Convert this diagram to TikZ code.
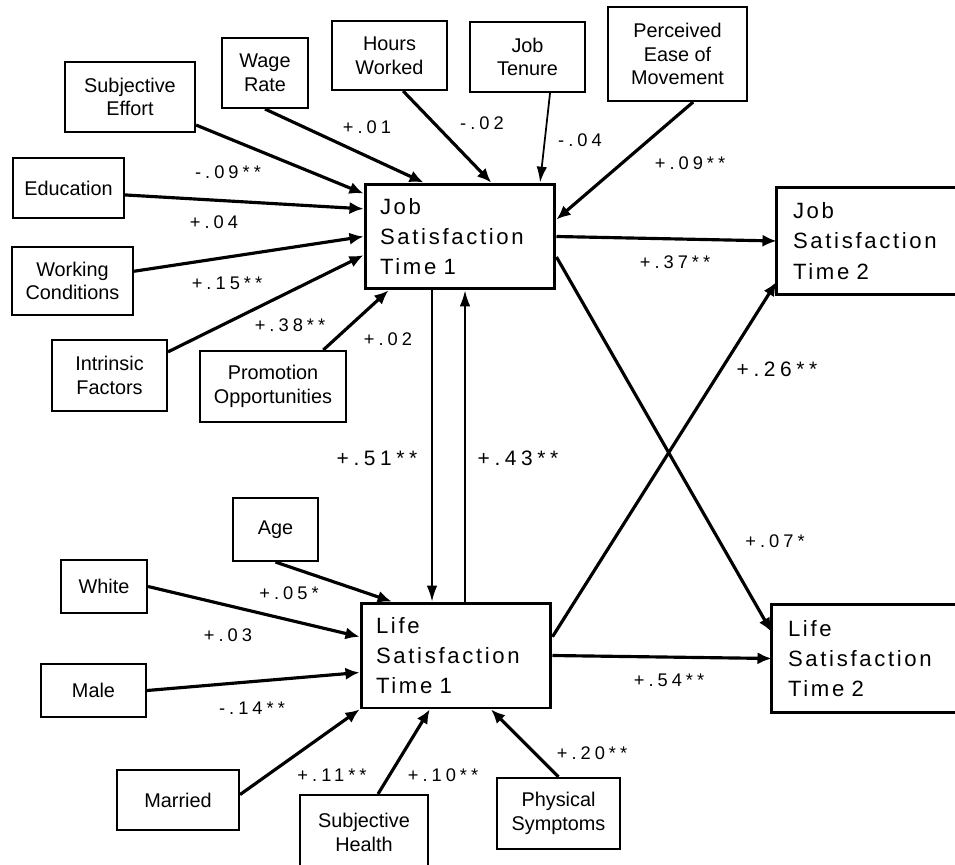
\documentclass[tikz,border=0pt]{standalone}
\usepackage{fontspec}
\setmainfont{Liberation Sans}
\newfontfamily\satfont[LetterSpace=12]{Liberation Sans}
\newfontfamily\coeffont[LetterSpace=22]{Liberation Sans}
\usetikzlibrary{arrows.meta}

\tikzset{
  var/.style={draw, line width=1.2pt, align=center, inner sep=2pt,
    font=\fontsize{11.3}{13.5}\selectfont},
  sat/.style={draw, line width=1.7pt, align=left, text width=3.2cm,
    inner xsep=0.3cm, minimum width=3.8cm, minimum height=2.1cm,
    font=\satfont\fontsize{12.6}{17.3}\selectfont},
  satabierta/.style={sat, draw=none, text width=3.6cm, minimum width=4.2cm},
  borde/.style={line width=1.7pt},
  flecha/.style={line width=1.8pt, -{Latex[length=8pt,width=7pt]}},
  flechafina/.style={line width=1pt, -{Latex[length=9pt,width=6pt]}},
  coef/.style={inner sep=0pt, font=\coeffont\fontsize{10.4}{12}\selectfont},
  coefg/.style={inner sep=0pt, font=\coeffont\fontsize{11.9}{14}\selectfont}
}

\begin{document}
\begin{tikzpicture}[x=0.02cm,y=-0.02cm]
        \useasboundingbox (0,0) rectangle (955,864);
        \clip (0,0) rectangle (955,864);
        % satisfaccion
        \node[sat] (js1) at (460,236.5) {Job\\Satisfaction\\Time 1};
        \node[satabierta] (js2) at (883,241) {Job\\Satisfaction\\Time 2};
        \node[sat] (ls1) at (456,655.5) {Life\\Satisfaction\\Time 1};
        \node[satabierta] (ls2) at (878,658.5) {Life\\Satisfaction\\Time 2};
        % cajas cortadas por el borde derecho
        \draw[borde] (js2.north east) -- (js2.north west) -- (js2.south west) -- (js2.south east);
        \draw[borde] (ls2.north east) -- (ls2.north west) -- (ls2.south west) -- (ls2.south east);
        % variables del trabajo
        \node[var, minimum width=2.6cm, minimum height=1.4cm] (se) at (130,97) {Subjective\\Effort};
        \node[var, minimum width=1.72cm, minimum height=1.4cm] (wage) at (265,73) {Wage\\Rate};
        \node[var, minimum width=2.3cm, minimum height=1.38cm] (hours) at (389.5,55.5) {Hours\\Worked};
        \node[var, minimum width=2.3cm, minimum height=1.4cm] (tenure) at (527.5,57) {Job\\Tenure};
        \node[var, minimum width=2.78cm, minimum height=1.88cm] (ease) at (677.5,54) {Perceived\\Ease of\\Movement};
        \node[var, minimum width=2.22cm, minimum height=1.2cm] (edu) at (68.5,188) {Education};
        \node[var, minimum width=2.42cm, minimum height=1.36cm] (work) at (72.5,281) {Working\\Conditions};
        \node[var, minimum width=2.3cm, minimum height=1.42cm] (intr) at (109.5,375.5) {Intrinsic\\Factors};
        \node[var, minimum width=2.92cm, minimum height=1.42cm] (promo) at (273,386.5) {Promotion\\Opportunities};
        % variables personales
        \node[var, minimum width=1.7cm, minimum height=1.26cm] (age) at (275.5,529.5) {Age};
        \node[var, minimum width=1.72cm, minimum height=1.06cm] (white) at (104,586.5) {White};
        \node[var, minimum width=2.1cm, minimum height=1.06cm] (male) at (93.5,690.5) {Male};
        \node[var, minimum width=2.44cm, minimum height=1.2cm] (married) at (178,800) {Married};
        \node[var, minimum width=2.56cm, minimum height=1.5cm] (health) at (364,832.5) {Subjective\\Health};
        \node[var, minimum width=2.46cm, minimum height=1.42cm] (phys) at (558.5,813.5) {Physical\\Symptoms};
        % flechas hacia job satisfaction
        \draw[flecha] (se.337) -- (js1.156);
        \draw[flecha] (wage.south) -- (js1.124);
        \draw[flecha] (hours.291) -- (js1.60);
        \draw[flechafina] (tenure.302) -- (js1.34);
        \draw[flecha] (ease.288) -- (js1.10);
        \draw[flecha] (edu.353) -- (js1.164);
        \draw[flecha] (work.9) -- (js1.west);
        \draw[flecha] (intr.22) -- (js1.191);
        \draw[flecha] (promo.36) -- (js1.217);
        % flechas hacia life satisfaction
        \draw[flecha] (age.south) -- (ls1.140);
        \draw[flecha] (white.east) -- (ls1.169);
        \draw[flecha] (male.east) -- (ls1.190);
        \draw[flecha] (married.5) -- (ls1.south west);
        \draw[flecha] (health.70) -- (ls1.244);
        \draw[flecha] (phys.north) -- (ls1.303);
        % efectos reciprocos y tiempo 2
        \draw[flechafina] ([xshift=-0.56cm]js1.south) -- ([xshift=-0.56cm]js1.south |- ls1.north);
        \draw[flechafina] ([xshift=0.18cm]ls1.north) -- ([xshift=0.18cm]ls1.north |- js1.south);
        \draw[flecha] (js1.east) -- (js2.west);
        \draw[flecha] (js1.348) -- (ls2.166);
        \draw[flecha] (ls1.11) -- (js2.201);
        \draw[flecha] (ls1.east) -- (ls2.west);
        % coeficientes
        \node[coef] (cse) at (228,172) {-.09**};
        \node[coef] (cwage) at (367,127) {+.01};
        \node[coef] (chours) at (482,123) {-.02};
        \node[coef] (ctenure) at (580,140) {-.04};
        \node[coef] (cease) at (690,163) {+.09**};
        \node[coef] (cedu) at (214,222) {+.04};
        \node[coef] (cwork) at (227,283) {+.15**};
        \node[coef] (cintr) at (290,325) {+.38**};
        \node[coef] (cpromo) at (388,339) {+.02};
        \node[coef] (cjs) at (675,262) {+.37**};
        \node[coefg] (cjl) at (377,458) {+.51**};
        \node[coefg] (clj) at (518,458) {+.43**};
        \node[coefg] (clsjs) at (777,369) {+.26**};
        \node[coef] (cjsls) at (775,541) {+.07*};
        \node[coef] (cage) at (289,593) {+.05*};
        \node[coef] (cwhite) at (228,635) {+.03};
        \node[coef] (cmale) at (252,708) {-.14**};
        \node[coef] (cmarried) at (332,775) {+.11**};
        \node[coef] (chealth) at (443,775) {+.10**};
        \node[coef] (cphys) at (592,753) {+.20**};
        \node[coef] (cls) at (669,680) {+.54**};
\end{tikzpicture}
\end{document}
